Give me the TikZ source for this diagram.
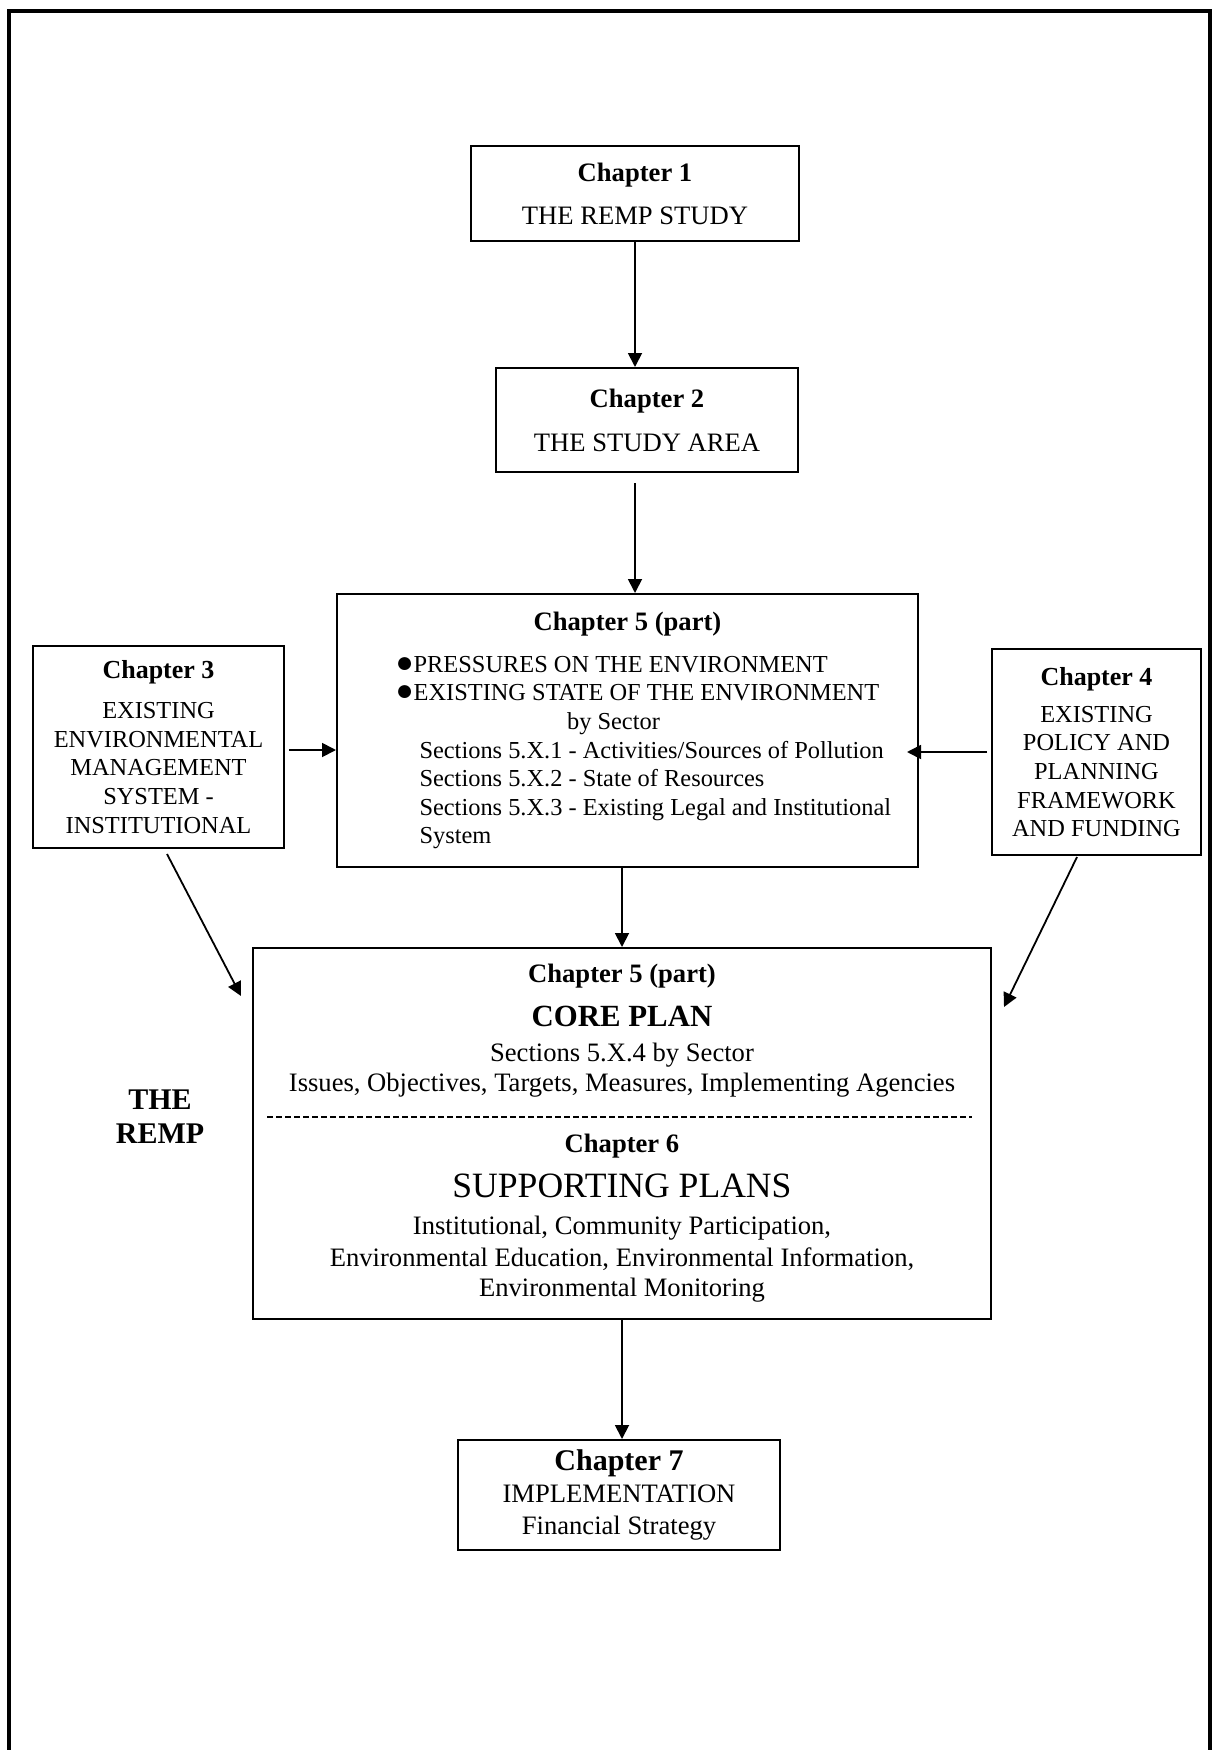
\documentclass[tikz,border=0pt]{standalone}
\usepackage{fontspec}
\setmainfont{Liberation Serif}
\usetikzlibrary{arrows.meta}

\begin{document}
\begin{tikzpicture}[x=0.5pt, y=-0.5pt,
    box/.style={draw, line width=1pt, inner sep=0pt, align=center},
    arr/.style={line width=0.9pt, -{Triangle[length=7pt, width=7pt]}},
    body/.style={font=\fontsize{12.2}{14.3}\selectfont},
    big/.style={font=\fontsize{13.3}{15}\selectfont}]
    \useasboundingbox (0,0) rectangle (1218,1750);
    \draw[line width=1.6pt] (9,1750) -- (9,11) -- (1210,11) -- (1210,1750);
    \node[box, big, minimum width=164pt, minimum height=47.5pt] (ch1) at (635,193.5)
        {{\bfseries Chapter 1}\\[6.5pt] THE REMP STUDY};
    \node[box, big, minimum width=151pt, minimum height=52pt] (ch2) at (647,420)
        {{\bfseries Chapter 2}\\[7pt] THE STUDY AREA};
    \node[box, body, minimum width=290.5pt, minimum height=136.5pt, text width=290pt, align=flush left] (ch5a) at (627.5,730.5)
        {\makebox[290pt]{\fontsize{13.3}{15}\bfseries Chapter 5 (part)}\\[6.7pt]
        \hspace*{29pt}{\fontsize{15}{14}\selectfont ●}PRESSURES ON THE ENVIRONMENT\\
        \hspace*{29pt}{\fontsize{15}{14}\selectfont ●}EXISTING STATE OF THE ENVIRONMENT\\
        \makebox[276pt]{by Sector}\\
        \hspace*{41pt}Sections 5.X.1 - Activities/Sources of Pollution\\
        \hspace*{41pt}Sections 5.X.2 - State of Resources\\
        \hspace*{41pt}Sections 5.X.3 - Existing Legal and Institutional\\
        \hspace*{41pt}System};
    \node[box, body, minimum width=125.5pt, minimum height=101pt] (ch3) at (158.5,747)
        {{\fontsize{13}{15}\bfseries Chapter 3}\\[5.7pt] EXISTING\\ ENVIRONMENTAL\\ MANAGEMENT\\ SYSTEM -\\ INSTITUTIONAL};
    \node[box, body, minimum width=104.5pt, minimum height=103pt] (ch4) at (1096.5,752)
        {{\fontsize{13}{15}\bfseries Chapter 4}\\[4.2pt] EXISTING\\ POLICY AND\\ PLANNING\\ FRAMEWORK\\ AND FUNDING};
    \node[box, big, minimum width=369pt, minimum height=185.5pt] (ch5b) at (622,1133.5)
        {{\bfseries Chapter 5 (part)}\\[7pt]
        {\fontsize{15.4}{17}\bfseries CORE PLAN}\\[2.5pt]
        Sections 5.X.4 by Sector\\
        Issues, Objectives, Targets, Measures, Implementing Agencies\\[15.5pt]
        {\bfseries Chapter 6}\\[7.5pt]
        {\fontsize{17.8}{20}\selectfont SUPPORTING PLANS}\\[3.5pt]
        Institutional, Community Participation,\\[1pt]
        Environmental Education, Environmental Information,\\
        Environmental Monitoring};
    \node[box, big, minimum width=161pt, minimum height=55pt] (ch7) at (619,1495)
        {{\fontsize{15}{17}\bfseries Chapter 7}\\[1pt] IMPLEMENTATION\\[1pt] Financial Strategy};
    \node[align=center, font=\fontsize{15}{17}\bfseries] (remp) at (160,1117) {THE\\ REMP};
    \draw[line width=0.6pt, dash pattern=on 3pt off 1.5pt] ([shift={(15,170)}]ch5b.north west) -- ([shift={(-20,170)}]ch5b.north east);
    \draw[arr] (ch1.south) -- (ch1.south |- ch2.north);
    \draw[arr] ([yshift=-5pt]ch2.south -| ch1.south) -- (ch1.south |- ch5a.north);
    \draw[arr] ([shift={(2pt,-1.5pt)}]ch3.east) -- ([yshift=-1.5pt]ch3.east -| ch5a.west);
    \draw[arr] ([xshift=-2pt]ch4.west) -- ([xshift=-6pt]ch4.west -| ch5a.east);
    \draw[arr] (ch5a.south -| ch5b.north) -- (ch5b.north);
    \draw[arr] ([shift={(8.5,5)}]ch3.south) -- ([shift={(-11,49)}]ch5b.north west);
    \draw[arr] ([shift={(-19.5,1)}]ch4.south) -- ([shift={(12,60)}]ch5b.north east);
    \draw[arr] (ch5b.south) -- (ch5b.south |- ch7.north);
\end{tikzpicture}
\end{document}
